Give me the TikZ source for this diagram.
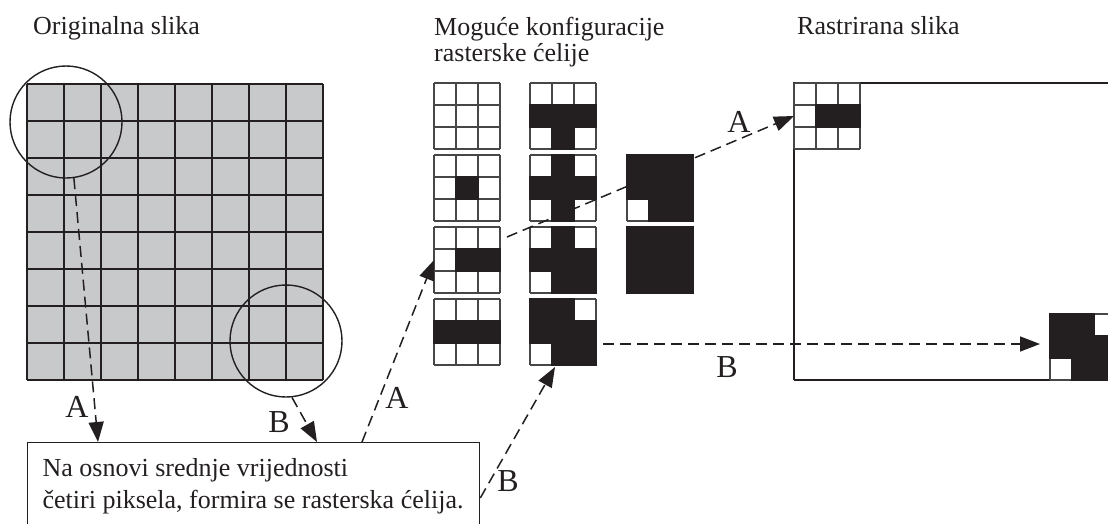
\documentclass[tikz,border=0pt]{standalone}
\usepackage{fontspec}
\setmainfont{Liberation Serif}
\usetikzlibrary{arrows.meta,calc}

\definecolor{pixgray}{HTML}{C8C9CB}
\definecolor{ink}{HTML}{231F20}
\definecolor{cellline}{HTML}{474747}

\tikzset{
  cellbox/.style={rectangle, anchor=north west, minimum size=66pt, inner sep=0pt, outer sep=0pt, fill=white},
  cellgrid/.style={draw=cellline, line width=1.8pt},
  cellink/.style={fill=ink, draw=ink, line width=1.8pt},
  pixline/.style={draw=ink, line width=1.8pt},
  lens/.style={circle, draw=ink, line width=1.4pt, minimum size=112pt, inner sep=0pt},
  link/.style={draw=ink, line width=1.5pt, dash pattern=on 11pt off 6pt, -{Triangle[length=20pt,width=15pt]}},
  tag/.style={font=\fontsize{32pt}{32pt}\selectfont, text=ink, inner sep=0pt},
  title/.style={font=\fontsize{26pt}{26pt}\selectfont, text=ink, inner sep=0pt, align=flush left},
  note/.style={draw=ink, line width=1.3pt, anchor=north west, align=flush left, text width=422pt,
    inner xsep=15pt, inner ysep=16pt, font=\fontsize{26pt}{32pt}\selectfont, text=ink}
}

% raster cell: name, top-left corner, black squares (column/row)
\newcommand{\rcell}[3]{%
  \node[cellbox] (#1) at (#2) {};
  \begin{scope}[shift={(#2)}]
    \foreach \k in {0,22,44,66} {
      \draw[cellgrid] (\k,0) -- (\k,66);
      \draw[cellgrid] (0,\k) -- (66,\k);
    }
    \if\relax\detokenize{#3}\relax\else
      \foreach \cx/\cy in {#3} {\filldraw[cellink] (\cx*22,\cy*22) rectangle ++(22,22);}
    \fi
  \end{scope}}

\begin{document}
\begin{tikzpicture}[x=1pt,y=-1pt]
\useasboundingbox (0,0) rectangle (1108,523);

% titles
\node[title, anchor=base west] (tOrig) at (33,34) {Originalna slika};
\node[title, anchor=north west] (tConf) at (434,17) {Moguće konfiguracije\\rasterske ćelije};
\node[title, anchor=base west] (tRast) at (797,34) {Rastrirana slika};

% original picture
\fill[pixgray] (27,84) rectangle (323,380);
\foreach \k in {0,...,8} {
  \draw[pixline] (27+\k*37,84) -- (27+\k*37,380);
  \draw[pixline] (27,84+\k*37) -- (323,84+\k*37);
}
\node[lens] (zoomA) at (66,122) {};
\node[lens] (zoomB) at (286,341) {};

% possible cell configurations
\rcell{c11}{434,83}{}
\rcell{c12}{434,155}{1/1}
\rcell{c13}{434,227}{1/1,2/1}
\rcell{c14}{434,299}{0/1,1/1,2/1}
\rcell{c21}{530,83}{0/1,1/1,2/1,1/2}
\rcell{c22}{530,155}{1/0,0/1,1/1,2/1,1/2}
\rcell{c23}{530,227}{1/0,0/1,1/1,2/1,1/2,2/2}
\rcell{c24}{530,299}{0/0,1/0,0/1,1/1,2/1,1/2,2/2}
\rcell{c32}{627,155}{0/0,1/0,2/0,0/1,1/1,2/1,1/2,2/2}
\rcell{c33}{627,227}{0/0,1/0,2/0,0/1,1/1,2/1,0/2,1/2,2/2}

% rastered picture
\draw[line width=1.5pt, ink] (794,380) -- (794,83) -- (1130,83);
\draw[line width=1.5pt, ink] (794,380) -- (1050,380);
\rcell{rr1}{794,83}{1/1,2/1}
\rcell{rr2}{1050,314}{0/0,1/0,0/1,1/1,2/1,1/2,2/2}

% explanation
\node[note] (note) at (27,442) {Na osnovi srednje vrijednosti\\četiri piksela, formira se rasterska ćelija.};

% connectors
\draw[link] (zoomA.-82) -- ($(note.north west)+(71,0)$);
\draw[link] (zoomB.-84) -- ($(note.north west)+(290,0)$);
\draw[link] ($(note.north west)+(335,0)$) -- (c13.west);
\draw[link] ($(c13.north east)+(7,10)$) -- (rr1.west);
\draw[link] ($(note.north east)+(0,56)$) -- ($(c24.south)+(-8,2)$);
\draw[link] ($(c24.east)+(7,12)$) -- ($(rr2.west)+(-10,-3)$);

\node[tag] (tA1) at (77,407) {A};
\node[tag] (tB1) at (279,422) {B};
\node[tag] (tA3) at (397,398) {A};
\node[tag] (tB3) at (508,481) {B};
\node[tag] (tA2) at (739,122) {A};
\node[tag] (tB2) at (727,367) {B};
\end{tikzpicture}
\end{document}
